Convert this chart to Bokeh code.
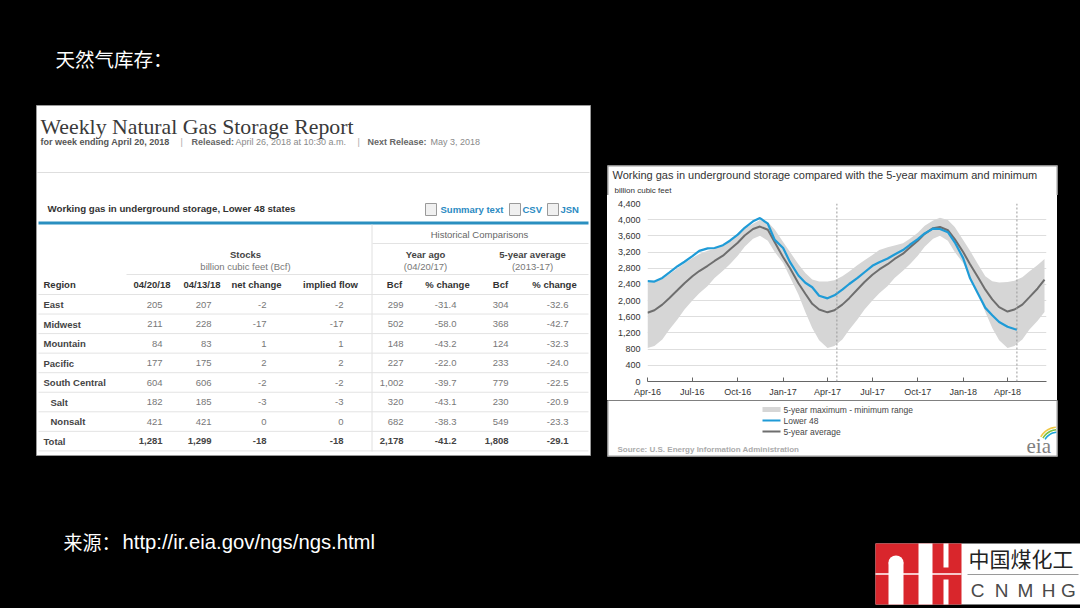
import numpy as np
import pandas as pd
from bokeh.plotting import figure
from bokeh.layouts import row, column
from bokeh.models import (Range1d, Spacer, FixedTicker, NumeralTickFormatter,
                          DatetimeTickFormatter, Span, ColumnDataSource, GlobalInlineStyleSheet)
from bokeh.core.properties import value
from bokeh.embed import file_html
from bokeh.resources import INLINE

# ---------------- slide texts ----------------
slide_title = "天然气库存："
source_label = "来源："
source_url = "http://ir.eia.gov/ngs/ngs.html"
logo_cn = "中国煤化工"
logo_en = ["C", "N", "M", "H", "G"]

# ---------------- table data ----------------
report_title = "Weekly Natural Gas Storage Report"
table_caption = "Working gas in underground storage, Lower 48 states"
regions = ["East", "Midwest", "Mountain", "Pacific", "South Central", "Salt", "Nonsalt", "Total"]
sub_rows = ["Salt", "Nonsalt"]
stocks_0420 = [205, 211, 84, 177, 604, 182, 421, 1281]
stocks_0413 = [207, 228, 83, 175, 606, 185, 421, 1299]
net_change = [-2, -17, 1, 2, -2, -3, 0, -18]
implied_flow = [-2, -17, 1, 2, -2, -3, 0, -18]
year_ago_bcf = [299, 502, 148, 227, 1002, 320, 682, 2178]
year_ago_pct = [-31.4, -58.0, -43.2, -22.0, -39.7, -43.1, -38.3, -41.2]
avg5_bcf = [304, 368, 124, 233, 779, 230, 549, 1808]
avg5_pct = [-32.6, -42.7, -32.3, -24.0, -22.5, -20.9, -23.3, -29.1]
col_headers = ["04/20/18", "04/13/18", "net change", "implied flow", "Bcf", "% change", "Bcf", "% change"]

# ---------------- chart data (billion cubic feet) ----------------
dates5 = ["2016-04-01", "2016-04-15", "2016-05-01", "2016-05-15", "2016-06-01", "2016-06-15",
          "2016-07-01", "2016-07-15", "2016-08-01", "2016-08-15", "2016-09-01", "2016-09-15",
          "2016-10-01", "2016-10-15", "2016-11-01", "2016-11-15", "2016-12-01", "2016-12-15",
          "2017-01-01", "2017-01-15", "2017-02-01", "2017-02-15", "2017-03-01", "2017-03-15",
          "2017-04-01", "2017-04-15", "2017-05-01", "2017-05-15", "2017-06-01", "2017-06-15",
          "2017-07-01", "2017-07-15", "2017-08-01", "2017-08-15", "2017-09-01", "2017-09-15",
          "2017-10-01", "2017-10-15", "2017-11-01", "2017-11-15", "2017-12-01", "2017-12-15",
          "2018-01-01", "2018-01-15", "2018-02-01", "2018-02-15", "2018-03-01", "2018-03-15",
          "2018-04-01", "2018-04-15", "2018-05-01", "2018-05-15", "2018-06-01", "2018-06-15"]
avg5 = [1700, 1760, 1900, 2060, 2260, 2430, 2600, 2730, 2860, 2980, 3110, 3260,
        3430, 3610, 3770, 3830, 3750, 3440,
        3070, 2800, 2430, 2170, 1920, 1780, 1710, 1760, 1900, 2060, 2280, 2460,
        2640, 2770, 2900, 3030, 3160, 3310, 3480, 3650, 3790, 3820, 3740, 3520,
        3200, 2900, 2560, 2270, 2030, 1840, 1730, 1780, 1900, 2080, 2300, 2520]
max5 = [2450, 2460, 2540, 2650, 2800, 2920, 3050, 3150, 3230, 3280, 3370, 3470,
        3620, 3780, 3900, 3990, 3940, 3760,
        3450, 3200, 2900, 2680, 2520, 2470, 2470, 2500, 2600, 2720, 2880, 3000,
        3130, 3250, 3320, 3360, 3420, 3530, 3680, 3850, 3980, 4050, 3990, 3820,
        3500, 3230, 2880, 2600, 2480, 2450, 2460, 2490, 2580, 2720, 2880, 3030]
min5 = [830, 880, 1040, 1280, 1540, 1780, 2000, 2180, 2360, 2560, 2740, 2900,
        3110, 3330, 3530, 3600, 3480, 3200,
        2930, 2580, 2150, 1720, 1320, 1020, 830, 880, 1040, 1280, 1540, 1780,
        2000, 2180, 2360, 2560, 2740, 2900, 3110, 3330, 3530, 3600, 3480, 3200,
        2930, 2580, 2150, 1720, 1320, 1020, 830, 880, 1040, 1280, 1500, 1720]
dates48 = dates5[:50] + ["2018-04-20"]
lower48 = [2480, 2470, 2560, 2690, 2850, 2960, 3100, 3230, 3290, 3300, 3370, 3480,
           3630, 3800, 3960, 4040, 3900, 3500,
           3300, 2950, 2620, 2440, 2330, 2120, 2055, 2130, 2270, 2410, 2560, 2700,
           2860, 2950, 3040, 3140, 3250, 3380, 3520, 3660, 3780, 3770, 3690, 3440,
           3050, 2550, 2150, 1820, 1640, 1470, 1354, 1299, 1281]
x_tick_dates = ["2016-04-01", "2016-07-01", "2016-10-01", "2017-01-01", "2017-04-01",
                "2017-07-01", "2017-10-01", "2018-01-01", "2018-04-01"]
y_ticks = [0, 400, 800, 1200, 1600, 2000, 2400, 2800, 3200, 3600, 4000, 4400]
marker_dates = ["2017-04-20", "2018-04-20"]
chart_title = "Working gas in underground  storage compared with the 5-year maximum and minimum"
legend_labels = ["5-year maximum - minimum range", "Lower 48", "5-year average"]

SANS = "Liberation Sans"
SERIF = "Liberation Serif"
CJK = "Noto Sans CJK SC"
BLUE = "#1f9bd7"
AVG_GRAY = "#6e6e6e"
BAND = "#d6d6d6"
EDGE = "#9a9a9a"


def canvas(w, h, x0, x1, y_top, y_bot, bg="black"):
    f = figure(width=w, height=h, x_range=Range1d(x0, x1), y_range=Range1d(y_bot, y_top),
               toolbar_location=None, output_backend="svg", min_border=0,
               x_axis_location=None, y_axis_location=None,
               background_fill_color=bg, border_fill_color=bg, outline_line_color=None)
    for g in f.grid:
        g.visible = False
    return f


def put(fig, xs, ys, texts, size, color, bold=False, align="left", font=SANS, baseline="middle"):
    fig.text(x=xs, y=ys, text=texts, text_font=value(font), text_font_size=value(size),
             text_color=color, text_align=align, text_baseline=baseline,
             text_font_style="bold" if bold else "normal")


def fmt_int(v):
    return f"{v:,}"


# ================= left canvas: title, table, source =================
L = canvas(600, 608, 0, 600, 0, 608)
put(L, [55], [58], [slide_title], "19.5px", "white", font=CJK)
put(L, [63], [541], [source_label], "19px", "white", font=CJK)
put(L, [122], [541], [source_url], "20.3px", "white", font=SANS)

# table panel
L.quad(left=[36], right=[590], top=[105], bottom=[455], fill_color="white", line_color=EDGE, line_width=1)
put(L, [40], [126], [report_title], "21.8px", "#3a3a3a", font=SERIF, baseline="alphabetic")
sub_parts = [("for week ending April 20, 2018", 40, True, "#555555"), ("|", 180, False, "#aaaaaa"),
             ("Released:", 191, True, "#666666"), ("April 26, 2018 at 10:30 a.m.", 235, False, "#8a8a8a"),
             ("|", 357, False, "#aaaaaa"), ("Next Release:", 367, True, "#666666"),
             ("May 3, 2018", 430, False, "#8a8a8a")]
for s, x, b, c in sub_parts:
    put(L, [x], [141], [s], "9px", c, bold=b)
L.segment(x0=[37], y0=[172], x1=[589], y1=[172], line_color="#dedede", line_width=1)

put(L, [47], [208], [table_caption], "9.7px", "#333333", bold=True)
L.quad(left=[425, 509, 547], right=[436, 520, 558], top=[203, 203, 203], bottom=[215, 215, 215],
       fill_color="#f0f0f0", line_color=EDGE, line_width=1)
put(L, [440, 522, 560], [209, 209, 209], ["Summary text", "CSV", "JSN"], "9.5px", "#2a8ac2", bold=True)
L.segment(x0=[38], y0=[222.5], x1=[588], y1=[222.5], line_color="#2a8fc0", line_width=3)

# group headers
put(L, [479], [234], ["Historical Comparisons"], "9.5px", "#666666", align="center")
put(L, [245, 425, 532], [253.5, 253.5, 253.5], ["Stocks", "Year ago", "5-year average"], "9.5px", "#444444",
    bold=True, align="center")
put(L, [245, 425, 532], [266, 266, 266], ["billion cubic feet (Bcf)", "(04/20/17)", "(2013-17)"], "9.5px",
    "#777777", align="center")
L.segment(x0=[372], y0=[243], x1=[588], y1=[243], line_color="#e3e3e3", line_width=1)
L.segment(x0=[126], y0=[274], x1=[588], y1=[274], line_color="#e3e3e3", line_width=1)
L.segment(x0=[371.5], y0=[224], x1=[371.5], y1=[451], line_color="#e0e0e0", line_width=1)

# column headers
put(L, [43], [284], ["Region"], "9.5px", "#333333", bold=True)
head_x = [170, 220, 256, 330, 394, 447, 500, 554]
head_al = ["right", "right", "center", "center", "center", "center", "center", "center"]
for h, x, a in zip(col_headers, head_x, head_al):
    put(L, [x], [284], [h], "9.5px", "#333333", bold=True, align=a)

# rows
row_y = [304 + 19.55 * i for i in range(len(regions))]
sep_y = [294 + 19.55 * i for i in range(len(regions) + 1)]
L.segment(x0=[38] * len(sep_y), y0=sep_y, x1=[588] * len(sep_y), y1=sep_y, line_color="#e3e3e3", line_width=1)
put(L, [50 if r in sub_rows else 43 for r in regions], row_y, regions, "9.5px", "#444444", bold=True)
columns = [(stocks_0420, 162, fmt_int), (stocks_0413, 211, fmt_int), (net_change, 266, fmt_int),
           (implied_flow, 343, fmt_int), (year_ago_bcf, 403, fmt_int), (year_ago_pct, 456, lambda v: f"{v:.1f}"),
           (avg5_bcf, 508, fmt_int), (avg5_pct, 568, lambda v: f"{v:.1f}")]
n = len(regions)
for vals, xr, f in columns:
    put(L, [xr] * (n - 1), row_y[:-1], [f(v) for v in vals[:-1]], "9.5px", "#777777", align="right")
    put(L, [xr], [row_y[-1]], [f(vals[-1])], "9.5px", "#444444", bold=True, align="right")

# ================= top-right canvas: chart header =================
T = canvas(480, 195, 600, 1080, 0, 195)
T.quad(left=[607], right=[1057], top=[165], bottom=[197], fill_color="white", line_color=None)
T.segment(x0=[607.5, 1056.5, 607], y0=[165, 165, 165.5], x1=[607.5, 1056.5, 1057], y1=[197, 197, 165.5],
          line_color=EDGE, line_width=1)
put(T, [612], [174], [chart_title], "11px", "#333333")
put(T, [614], [190], ["billion cubic feet"], "8px", "#333333")

# ================= EIA chart plot =================
x_start = pd.Timestamp("2016-04-01")
x_end = pd.Timestamp("2018-06-19")


def ms(d):
    return pd.Timestamp(d).value // 10**6


chart = figure(width=450, height=205, x_axis_type="datetime",
               x_range=Range1d(x_start, x_end), y_range=Range1d(0, y_ticks[-1]),
               toolbar_location=None, output_backend="svg",
               min_border_left=40, min_border_right=11, min_border_top=8, min_border_bottom=19,
               background_fill_color="white", border_fill_color="white", outline_line_color=None)
chart.styles = {"background-color": "white"}

src5 = ColumnDataSource(dict(date=pd.to_datetime(dates5), avg=avg5, hi=max5, lo=min5))
src48 = ColumnDataSource(dict(date=pd.to_datetime(dates48), v=lower48))
chart.varea(x="date", y1="lo", y2="hi", source=src5, fill_color=BAND)
chart.line("date", "avg", source=src5, line_color=AVG_GRAY, line_width=2)
chart.line("date", "v", source=src48, line_color=BLUE, line_width=2.2)
for d in marker_dates:
    chart.add_layout(Span(location=ms(d), dimension="height", line_color="#999999",
                          line_dash="2 2", line_width=1))

chart.xaxis.ticker = FixedTicker(ticks=[ms(d) for d in x_tick_dates])
chart.xaxis.formatter = DatetimeTickFormatter(days="%b-%y", months="%b-%y", years="%b-%y")
chart.xaxis.axis_line_color = "#666666"
chart.xaxis.major_tick_line_color = "#666666"
chart.xaxis.major_tick_in = 4
chart.xaxis.major_tick_out = 0
chart.xaxis.minor_tick_line_color = None
chart.xaxis.major_label_standoff = 5
chart.yaxis.ticker = FixedTicker(ticks=y_ticks)
chart.yaxis.formatter = NumeralTickFormatter(format="0,0")
chart.yaxis.axis_line_color = None
chart.yaxis.major_tick_line_color = None
chart.yaxis.minor_tick_line_color = None
chart.yaxis.major_tick_out = 0
chart.yaxis.major_label_standoff = 7
for ax in chart.axis:
    ax.major_label_text_font = SANS
    ax.major_label_text_font_size = "9px"
    ax.major_label_text_color = "#333333"
chart.xgrid.visible = False
chart.ygrid.ticker = FixedTicker(ticks=y_ticks)
chart.ygrid.grid_line_color = "#dedede"

# ================= bottom-right canvas: chart footer + logo =================
Bt = canvas(480, 208, 600, 1080, 400, 608)
Bt.quad(left=[607], right=[1057], top=[398], bottom=[456], fill_color="white", line_color=None)
Bt.segment(x0=[607.5, 1056.5, 607], y0=[398, 398, 455.5], x1=[607.5, 1056.5, 1057], y1=[456, 456, 455.5],
           line_color=EDGE, line_width=1)
Bt.quad(left=[762], right=[780], top=[406.5], bottom=[411.5], fill_color=BAND, line_color=None)
Bt.segment(x0=[762], y0=[420], x1=[780], y1=[420], line_color=BLUE, line_width=2.2)
Bt.segment(x0=[762], y0=[431], x1=[780], y1=[431], line_color=AVG_GRAY, line_width=2)
put(Bt, [783, 783, 783], [409, 420, 431], legend_labels, "8.5px", "#444444")
put(Bt, [617], [449], ["Source:  U.S. Energy Information Administration"], "8px", "#ababab", bold=True)
put(Bt, [1026], [445], ["eia"], "21px", "#808080", font=SERIF)
arc_xs, arc_ys, arc_cols = [], [], []
for r0, col in [(13.5, "#1ba3d9"), (16.0, "#7cc242"), (18.5, "#f0c844")]:
    th = np.radians(np.linspace(95, 150, 12))
    arc_xs.append(list(np.concatenate([1057 + (r0 + 1.6) * np.cos(th), 1057 + r0 * np.cos(th[::-1])])))
    arc_ys.append(list(np.concatenate([446 - (r0 + 1.6) * np.sin(th), 446 - r0 * np.sin(th[::-1])])))
    arc_cols.append(col)
Bt.patches(xs=arc_xs, ys=arc_ys, fill_color=arc_cols, line_color=None)

# logo
Bt.quad(left=[875], right=[1080], top=[543], bottom=[604], fill_color="white", line_color=None)
red = "#d9262c"
Bt.quad(left=[875], right=[961], top=[543], bottom=[604], fill_color=red, line_color=None)
Bt.quad(left=[888, 918, 943, 943], right=[903, 932, 948, 948], top=[562, 543, 543, 579],
        bottom=[604, 604, 567, 604], fill_color="white", line_color=None)
Bt.ellipse(x=[895.5], y=[562], width=15, height=14, fill_color="white", line_color=None)
Bt.segment(x0=[875], y0=[573.5], x1=[961], y1=[573.5], line_color="white", line_width=1.5)
Bt.segment(x0=[967], y0=[574], x1=[1078], y1=[574], line_color=EDGE, line_width=1)
put(Bt, [968], [557], [logo_cn], "21px", "#222222", font=CJK)
put(Bt, [977, 1001, 1025, 1048, 1068], [590] * 5, logo_en, "19px", "#4a4a4a", align="center")

panel_bg = ("linear-gradient(to right, #000000 0px, #000000 7px, #ffffff 7px, "
            "#ffffff 457px, #000000 457px, #000000 100%)")
left_pad = Spacer(width=7, height=205, styles={"background-color": "#000000"})
right_pad = Spacer(width=23, height=205, styles={"background-color": "#000000"})
chart_row = row(left_pad, chart, right_pad, styles={"background": panel_bg})
right_col = column(T, chart_row, Bt)
root = row(L, right_col)
root.styles = {"background-color": "#000000"}
root.stylesheets = [GlobalInlineStyleSheet(css="html, body { background-color: #000000; }")]

open("out.html", "w").write(file_html(root, INLINE))
